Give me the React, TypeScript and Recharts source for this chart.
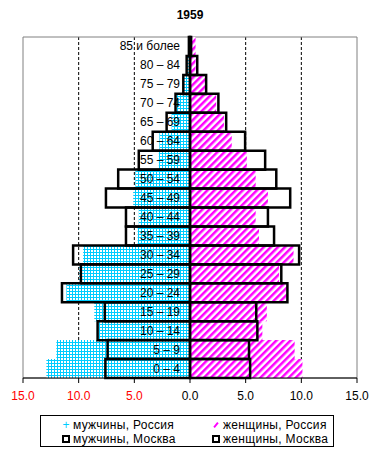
import React from "react";
import { Bar, BarChart, CartesianGrid, ReferenceArea, XAxis, YAxis } from "recharts";

// age groups, bottom to top
const ageGroups = [
  "0 – 4", "5 – 9", "10 – 14", "15 – 19", "20 – 24", "25 – 29",
  "30 – 34", "35 – 39", "40 – 44", "45 – 49", "50 – 54", "55 – 59",
  "60 – 64", "65 – 69", "70 – 74", "75 – 79", "80 – 84", "85 и более",
];

// share of population, %
const menRussia = [12.9, 12.0, 8.2, 8.6, 11.1, 9.95, 9.6, 4.7, 4.6, 5.1, 4.9, 2.8, 2.75, 1.65, 1.2, 0.55, 0.3, 0.15];
const womenRussia = [10.1, 9.4, 6.5, 6.9, 8.7, 8.0, 9.3, 6.2, 5.9, 7.0, 5.9, 5.1, 3.75, 3.05, 2.35, 1.35, 0.5, 0.5];
const menMoscow = [7.6, 7.4, 8.3, 7.65, 11.5, 9.8, 10.5, 5.75, 5.75, 7.55, 6.45, 4.6, 3.35, 2.1, 1.3, 0.6, 0.3, 0.1];
const womenMoscow = [5.4, 5.3, 6.05, 5.95, 8.75, 8.2, 9.8, 7.55, 7.0, 9.0, 7.75, 6.75, 4.95, 3.25, 2.55, 1.45, 0.65, 0.1];

const xTicks = [-15, -10, -5, 0, 5, 10, 15];
const gridValues = [-10, -5, 5, 10];

const data = ageGroups.map((age, i) => ({
  age,
  ruMen: -menRussia[i],
  ruWomen: womenRussia[i],
  mskMen: -menMoscow[i],
  mskWomen: womenMoscow[i],
}));

const FONT = "'Liberation Sans', Arial, sans-serif";
const CYAN = "#00ccff";
const MAGENTA = "#ff00ff";

function XTick({ x, y, payload }: any) {
  const v = Number(payload.value);
  return (
    <text x={x} y={y} dy={15} textAnchor="middle" fontSize={12} fontFamily={FONT} fill={v < 0 ? "#ff0000" : "#000"}>
      {Math.abs(v).toFixed(1)}
    </text>
  );
}

function AgeTick({ y, payload }: any) {
  return (
    <text x={180} y={y} dy={4} textAnchor="end" fontSize={12} fontFamily={FONT} fill="#000">
      {payload.value}
    </text>
  );
}

function LegendItem({ icon, label }: { icon: React.ReactNode; label: string }) {
  return (
    <div style={{ display: "flex", alignItems: "center", height: 14 }}>
      <span style={{ width: 10, display: "inline-flex", justifyContent: "center" }}>{icon}</span>
      <span style={{ marginLeft: 2, letterSpacing: 0.3 }}>{label}</span>
    </div>
  );
}

const squareIcon = <span style={{ width: 4, height: 4, border: "2px solid #000", display: "inline-block" }} />;

export default function App() {
  return (
    <div style={{ position: "absolute", left: 0, top: 0, width: 380, height: 460, background: "#fff", fontFamily: FONT }}>
      <div style={{ position: "absolute", top: 8, left: 0, width: 380, textAlign: "center", fontSize: 12, fontWeight: "bold" }}>
        1959
      </div>
      <BarChart
        width={380}
        height={460}
        data={data}
        layout="vertical"
        stackOffset="sign"
        barCategoryGap={0}
        barGap={0}
        margin={{ top: 37, right: 23, left: 0, bottom: 52 }}
      >
        <defs>
          <pattern id="cyanGrid" width={3} height={3} patternUnits="userSpaceOnUse">
            <rect width={3} height={3} fill={CYAN} />
            <rect x={1} y={1} width={2} height={2} fill="#fff" />
          </pattern>
          <pattern id="magentaHatch" width={5} height={5} patternUnits="userSpaceOnUse" patternTransform="rotate(45)">
            <rect width={5} height={5} fill="#fff" />
            <rect width={2.5} height={5} fill={MAGENTA} />
          </pattern>
        </defs>
        <CartesianGrid
          yAxisId="ru"
          horizontal={false}
          verticalValues={gridValues}
          stroke="#000"
          strokeDasharray="3 2"
        />
        <XAxis
          type="number"
          domain={[-15, 15]}
          ticks={xTicks}
          interval={0}
          tick={<XTick />}
          tickSize={5}
          height={30}
          axisLine={{ stroke: "#000" }}
          tickLine={{ stroke: "#000" }}
        />
        <YAxis
          yAxisId="ru"
          type="category"
          dataKey="age"
          reversed
          width={23}
          tick={<AgeTick />}
          tickLine={false}
          axisLine={false}
          interval={0}
        />
        <YAxis yAxisId="msk" type="category" dataKey="age" reversed hide />
        <ReferenceArea yAxisId="ru" x1={-15} x2={15} fill="none" stroke="#808080" />
        <Bar yAxisId="ru" dataKey="ruMen" stackId="ru" fill="url(#cyanGrid)" isAnimationActive={false} />
        <Bar yAxisId="ru" dataKey="ruWomen" stackId="ru" fill="url(#magentaHatch)" isAnimationActive={false} />
        <Bar yAxisId="msk" dataKey="mskMen" stackId="msk" fill="none" stroke="#000" strokeWidth={2.5} isAnimationActive={false} />
        <Bar yAxisId="msk" dataKey="mskWomen" stackId="msk" fill="none" stroke="#000" strokeWidth={2.5} isAnimationActive={false} />
      </BarChart>
      <div
        style={{
          position: "absolute",
          left: 40,
          top: 415,
          width: 294,
          height: 32,
          border: "1px solid #000",
          fontSize: 12,
          display: "grid",
          gridTemplateColumns: "150px 130px",
          paddingLeft: 20,
          paddingTop: 2,
          boxSizing: "border-box",
        }}
      >
        <LegendItem icon={<span style={{ color: CYAN, fontSize: 12 }}>+</span>} label="мужчины, Россия" />
        <LegendItem
          icon={<span style={{ width: 6, height: 2, background: MAGENTA, transform: "rotate(-50deg)", display: "inline-block" }} />}
          label="женщины, Россия"
        />
        <LegendItem icon={squareIcon} label="мужчины, Москва" />
        <LegendItem icon={squareIcon} label="женщины, Москва" />
      </div>
    </div>
  );
}
